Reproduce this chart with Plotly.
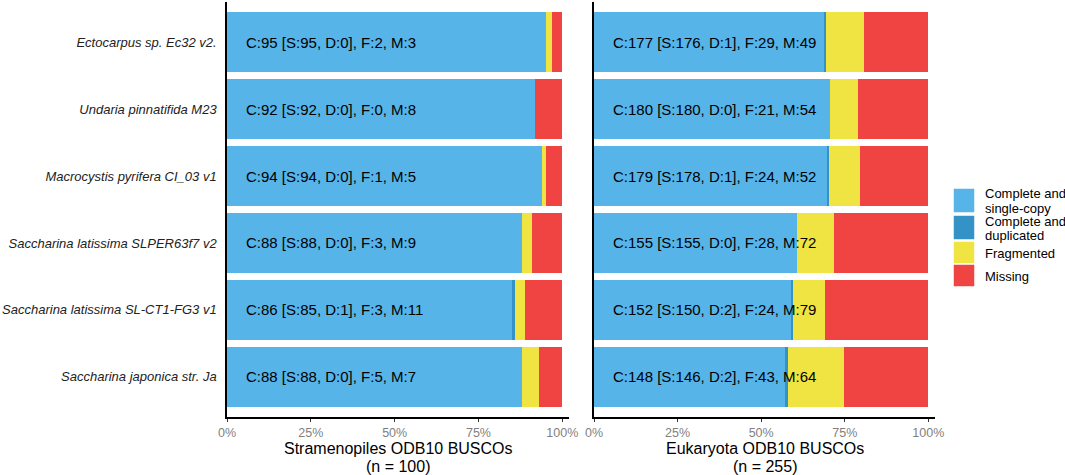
import plotly.graph_objects as go

# genomes, top to bottom
genomes = [
    "Ectocarpus sp. Ec32 v2.",
    "Undaria pinnatifida M23",
    "Macrocystis pyrifera CI_03 v1",
    "Saccharina latissima SLPER63f7 v2",
    "Saccharina latissima SL-CT1-FG3 v1",
    "Saccharina japonica str. Ja",
]

# Stramenopiles odb10 (n = 100)
stra_n = 100
stra_S = [95, 92, 94, 88, 85, 88]
stra_D = [0, 0, 0, 0, 1, 0]
stra_F = [2, 0, 1, 3, 3, 5]
stra_M = [3, 8, 5, 9, 11, 7]

# Eukaryota odb10 (n = 255)
euk_n = 255
euk_S = [176, 180, 178, 155, 150, 146]
euk_D = [1, 0, 1, 0, 2, 2]
euk_F = [29, 21, 24, 28, 24, 43]
euk_M = [49, 54, 52, 72, 79, 64]

categories = ["Complete and\nsingle-copy", "Complete and\nduplicated", "Fragmented", "Missing"]
colors = ["#56B4E9", "#3492C7", "#F0E442", "#F04442"]
pct_ticks = [0, 25, 50, 75, 100]

W, H = 1065, 475
FONT = "Liberation Sans, Arial, sans-serif"

fig = go.Figure()

panels = [
    ("x", "y", "Stramenopiles", stra_n, [stra_S, stra_D, stra_F, stra_M]),
    ("x2", "y2", "Eukaryota", euk_n, [euk_S, euk_D, euk_F, euk_M]),
]

# plot area in pixels: top 2, bottom 417
top_px, bot_px = 2, 417


def py(v):
    return (bot_px - v) / (bot_px - top_px)


annotations = []
for xa, ya, lineage, n, series in panels:
    for name, col, vals in zip(categories, colors, series):
        fig.add_trace(go.Bar(
            y=genomes, x=[v / n * 100 for v in vals], orientation="h",
            name=name, marker=dict(color=col, line=dict(width=0)),
            width=0.9, xaxis=xa, yaxis=ya, showlegend=False,
        ))
    S, D, F, M = series
    for g, s, d, f, m in zip(genomes, S, D, F, M):
        annotations.append(dict(
            x=5, y=g, xref=xa, yref=ya, xanchor="left", yanchor="middle",
            text=f"C:{s + d} [S:{s}, D:{d}], F:{f}, M:{m}",
            showarrow=False, font=dict(size=15, color="black", family=FONT),
        ))
    # axis title, two lines placed by hand (tighter than plotly's line height)
    for ly, txt in [(448, f"{lineage} ODB10 BUSCOs"), (466, f"(n = {n})")]:
        annotations.append(dict(
            x=0.5, y=py(ly), xref=f"{xa} domain", yref="paper",
            xanchor="center", yanchor="middle", text=txt, showarrow=False,
            font=dict(size=16, color="black", family=FONT),
        ))

# legend drawn by hand so the keys match ggplot's size
key_rows = [(188, 213, [194, 208]), (215, 240, [221, 235]), (241, 264, [253]), (264, 287, [276])]
shapes = []
for (y0, y1, lines), name, col in zip(key_rows, categories, colors):
    shapes.append(dict(type="rect", xref="paper", yref="paper",
                       x0=953 / W, x1=975 / W, y0=py(y1), y1=py(y0),
                       fillcolor=col, line=dict(color="white", width=1.5)))
    for ly, txt in zip(lines, name.split("\n")):
        annotations.append(dict(
            x=983 / W, y=py(ly), xref="paper", yref="paper",
            xanchor="left", yanchor="middle", text=txt, showarrow=False,
            font=dict(size=13, color="black", family=FONT),
        ))

xcommon = dict(
    range=[0, 102], tickmode="array", tickvals=pct_ticks,
    ticktext=[f"{v}%" for v in pct_ticks],
    showline=True, linecolor="black", linewidth=1.5,
    ticks="outside", ticklen=3, tickcolor="#333", tickwidth=1,
    showgrid=False, zeroline=False, fixedrange=True,
    tickfont=dict(size=12.5, color="#7f7f7f", family=FONT),
)
ycommon = dict(
    range=[5.6, -0.6], showline=True, linecolor="black", linewidth=1.5,
    ticks="", showgrid=False, zeroline=False, fixedrange=True,
)

fig.update_layout(
    width=W, height=H,
    margin=dict(l=0, r=0, t=top_px, b=H - bot_px, autoexpand=False),
    barmode="stack", bargap=0.1,
    plot_bgcolor="white", paper_bgcolor="white",
    font=dict(family=FONT),
    xaxis=dict(domain=[227 / W, 569 / W], anchor="y", **xcommon),
    xaxis2=dict(domain=[594 / W, 935 / W], anchor="y2", **xcommon),
    yaxis=dict(anchor="x", ticklabelstandoff=6,
               tickfont=dict(size=13, color="#222", family=FONT, style="italic"),
               **ycommon),
    yaxis2=dict(anchor="x2", showticklabels=False, **ycommon),
    annotations=annotations,
    shapes=shapes,
)

# drop the browser's default body margin so the figure sits at the page corner
fig.write_html("out.html", config={"displayModeBar": False},
               post_script="document.body.style.margin='0';")
